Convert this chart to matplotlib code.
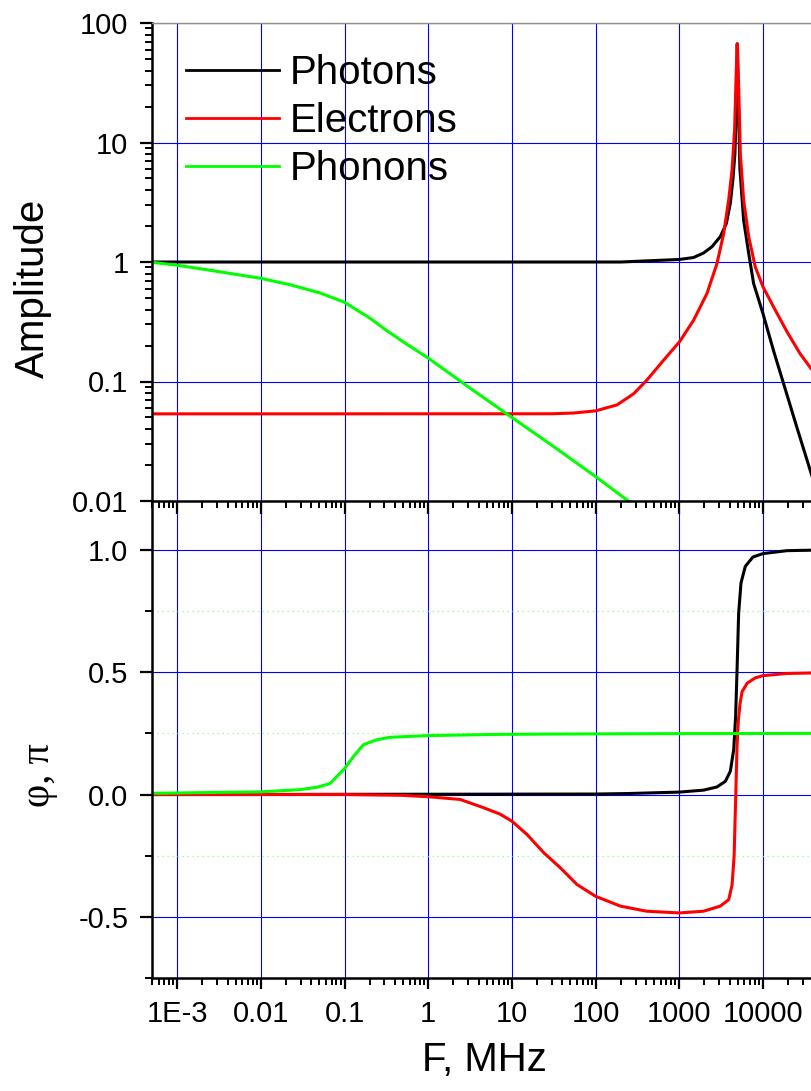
import matplotlib
matplotlib.use("Agg")
import matplotlib.pyplot as plt
from matplotlib.ticker import LogLocator, NullFormatter, FixedLocator

plt.rcParams['font.family'] = ['Liberation Sans', 'DejaVu Sans']

# ---------------- data ----------------
series_names = ["Photons", "Electrons", "Phonons"]
series_colors = ["#000000", "#ff0000", "#00ff00"]

# Amplitude panel
f_amp_photons = [5e-4, 200, 1000, 1480, 1950, 2450, 3090, 3650, 4070, 4370, 4620, 4800, 4930,
                 5050, 5300, 5870, 6750, 7730, 10000, 13400, 17700, 25500, 38900, 50000]
a_photons = [1.0, 1.0, 1.05, 1.09, 1.19, 1.34, 1.63, 2.1, 3.1, 4.9, 8.1, 21, 67,
             28, 6.0, 2.24, 1.18, 0.66, 0.37, 0.18, 0.095, 0.041, 0.0158, 0.0098]

f_amp_electrons = [5e-4, 30, 55, 100, 180, 285, 411, 650, 1000, 1480, 2140, 2820, 3390, 3890,
                   4270, 4580, 4800, 4930, 5120, 5360, 5870, 6750, 8090, 10000, 13400, 19400,
                   27900, 38900, 50000]
a_electrons = [0.0536, 0.0537, 0.0545, 0.0568, 0.0637, 0.079, 0.103, 0.151, 0.214, 0.325,
               0.545, 0.97, 1.73, 3.3, 5.9, 12.8, 41, 67, 29.5, 8.1, 3.3, 1.63, 0.91, 0.62,
               0.42, 0.26, 0.17, 0.124, 0.105]

f_amp_phonons = [5e-4, 1e-3, 3e-3, 0.01, 0.0224, 0.0513, 0.1, 0.15, 0.2, 0.316, 0.5, 1,
                 3.16, 10, 31.6, 100, 237, 320]
a_phonons = [0.994, 0.94, 0.835, 0.73, 0.645, 0.55, 0.46, 0.385, 0.34, 0.268, 0.215, 0.157,
             0.088, 0.050, 0.0285, 0.016, 0.0102, 0.0085]

# Phase panel (units of pi)
f_ph_photons = [5e-4, 100, 237, 1000, 1950, 2820, 3550, 4070, 4470, 4710, 4900, 5120, 5460,
                6150, 7590, 10000, 19400, 38900, 50000]
p_photons = [0.0, 0.002, 0.004, 0.01, 0.018, 0.031, 0.054, 0.095, 0.184, 0.32, 0.511, 0.742,
             0.865, 0.933, 0.971, 0.985, 0.997, 0.999, 0.999]

f_ph_electrons = [5e-4, 0.1, 0.47, 1, 2.4, 4.6, 7.2, 10, 15.1, 24, 38, 60, 100, 197, 407,
                  1000, 1950, 3090, 3890, 4270, 4520, 4730, 4900, 5070, 5310, 5620, 6460,
                  8090, 10000, 19400, 38900, 50000]
p_electrons = [0.0, 0.0, -0.003, -0.009, -0.02, -0.054, -0.08, -0.109, -0.163, -0.238,
               -0.30, -0.368, -0.416, -0.456, -0.477, -0.484, -0.477, -0.456, -0.43, -0.37,
               -0.25, 0.0, 0.2, 0.3, 0.37, 0.42, 0.455, 0.477, 0.486, 0.495, 0.497, 0.498]

f_ph_phonons = [5e-4, 0.01, 0.0295, 0.047, 0.067, 0.1, 0.128, 0.168, 0.243, 0.35, 1, 7.2,
                100, 1000, 50000]
p_phonons = [0.005, 0.011, 0.02, 0.03, 0.045, 0.106, 0.156, 0.204, 0.224, 0.234, 0.241,
             0.246, 0.248, 0.249, 0.25]

x_tick_values = [1e-3, 1e-2, 1e-1, 1, 10, 100, 1000, 10000]
x_tick_labels = ["1E-3", "0.01", "0.1", "1", "10", "100", "1000", "10000"]
amp_tick_values = [0.01, 0.1, 1, 10, 100]
amp_tick_labels = ["0.01", "0.1", "1", "10", "100"]
phase_tick_values = [-0.5, 0.0, 0.5, 1.0]
phase_tick_labels = ["-0.5", "0.0", "0.5", "1.0"]
phase_minor_values = [-0.75, -0.25, 0.25, 0.75]

# ---------------- figure ----------------
W_PX, H_PX = 812, 1091
fig = plt.figure(figsize=(W_PX / 100, H_PX / 100), dpi=100)

left_px, right_px = 152, 816
top1, mid, bot2 = 23, 501, 978
L = left_px / W_PX
Wd = (right_px - left_px) / W_PX
ax1 = fig.add_axes([L, 1 - mid / H_PX, Wd, (mid - top1) / H_PX])
ax2 = fig.add_axes([L, 1 - bot2 / H_PX, Wd, (bot2 - mid) / H_PX])
ax1.set_zorder(3)

lw_data = 2.2
grid_kw = dict(color="#0000ff", linewidth=0.8)
tick_font = 21

amp_data = [(f_amp_photons, a_photons), (f_amp_electrons, a_electrons), (f_amp_phonons, a_phonons)]
ph_data = [(f_ph_photons, p_photons), (f_ph_electrons, p_electrons), (f_ph_phonons, p_phonons)]

for (fx, fy), name, col in zip(amp_data, series_names, series_colors):
    ax1.plot(fx, fy, color=col, lw=lw_data, label=name, solid_joinstyle='round')
for (fx, fy), col in zip(ph_data, series_colors):
    ax2.plot(fx, fy, color=col, lw=lw_data, solid_joinstyle='round')

for ax in (ax1, ax2):
    ax.set_xscale('log')
    ax.set_xlim(5e-4, 4.3e4)
    ax.xaxis.set_major_locator(FixedLocator(x_tick_values))
    ax.xaxis.set_minor_locator(LogLocator(base=10, subs=range(2, 10), numticks=100))
    ax.xaxis.set_minor_formatter(NullFormatter())
    ax.grid(True, which='major', **grid_kw)
    ax.set_axisbelow('line')
    for s in ('left', 'bottom'):
        ax.spines[s].set_linewidth(1.8)
    ax.spines['right'].set_visible(False)
    ax.tick_params(which='major', direction='out', length=9, width=1.6,
                   labelsize=tick_font, pad=7)
    ax.tick_params(which='minor', direction='out', length=5, width=1.4)
    ax.tick_params(axis='y', which='major', pad=8)

# top panel
ax1.set_yscale('log')
ax1.set_ylim(0.01, 100)
ax1.yaxis.set_major_locator(FixedLocator(amp_tick_values))
ax1.set_yticklabels(amp_tick_labels)
ax1.yaxis.set_minor_locator(LogLocator(base=10, subs=range(2, 10), numticks=100))
ax1.yaxis.set_minor_formatter(NullFormatter())
ax1.tick_params(axis='x', labelbottom=False)
ax1.spines['top'].set_color('#909090')
ax1.spines['top'].set_linewidth(1.0)
ax1.set_ylabel("Amplitude", fontsize=29)
ax1.yaxis.label.set(ha='center', va='center')
ax1.yaxis.set_label_coords((33 - left_px) / (right_px - left_px), (mid - 288) / (mid - top1))

leg = ax1.legend(loc='upper left', bbox_to_anchor=(186 / W_PX, 1 - 54 / H_PX),
                 bbox_transform=fig.transFigure, frameon=False, fontsize=29,
                 handlelength=2.3, handletextpad=0.28, labelspacing=0.25,
                 borderpad=0, borderaxespad=0)
for ln in leg.get_lines():
    ln.set_linewidth(2.0)

# bottom panel
ax2.set_ylim(-0.75, 1.2)
ax2.yaxis.set_major_locator(FixedLocator(phase_tick_values))
ax2.set_yticklabels(phase_tick_labels)
ax2.yaxis.set_minor_locator(FixedLocator(phase_minor_values))
ax2.yaxis.grid(True, which='minor', color='#80ff80', linestyle=(0, (1, 3)), linewidth=0.9)
ax2.xaxis.grid(False, which='minor')
ax2.spines['top'].set_visible(False)
ax2.set_xticklabels(x_tick_labels)
ax2.tick_params(axis='x', which='major', length=8, pad=8)
ax2.tick_params(axis='x', which='minor', length=5)
ax2.set_xlabel("F, MHz", fontsize=29)
ax2.xaxis.label.set(ha='center', va='center')
ax2.xaxis.set_label_coords((484 - left_px) / (right_px - left_px), (bot2 - 1060) / (bot2 - mid))
ax2.set_ylabel("φ, π", fontsize=29, family=['Liberation Serif', 'DejaVu Serif'])
ax2.yaxis.label.set(ha='center', va='center')
ax2.yaxis.set_label_coords((40 - left_px) / (right_px - left_px), (bot2 - 775) / (bot2 - mid))

fig.savefig("out.png", dpi=100)
